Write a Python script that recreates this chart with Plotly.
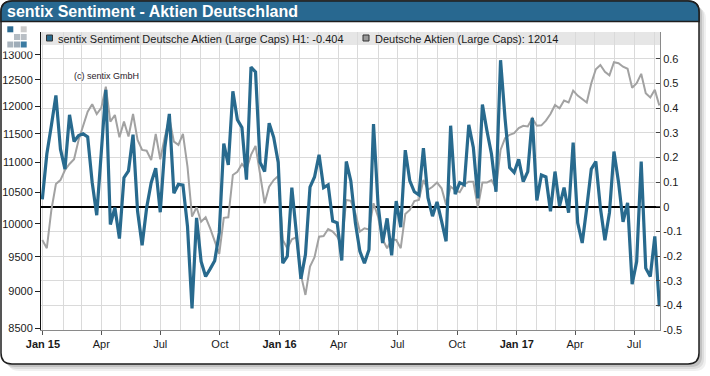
import plotly.graph_objects as go
import pandas as pd

# ---------------- data ----------------
start_date = "2014-12-31"

sentiment = [
    0.030, 0.214, 0.330, 0.452, 0.234, 0.153, 0.373, 0.265, 0.289, 0.296,
    0.284, 0.098, -0.034, 0.220, 0.475, -0.072, -0.004, -0.129, 0.118, 0.146,
    0.293, -0.018, -0.156, -0.004, 0.098, 0.157, -0.022, 0.241, 0.377, 0.055,
    0.091, 0.088, -0.079, -0.412, -0.045, -0.222, -0.283, -0.252, -0.219, -0.106,
    0.257, 0.170, 0.469, 0.353, 0.322, 0.110, 0.567, 0.547, 0.180, 0.143,
    0.339, 0.282, 0.180, -0.229, -0.201, 0.078, -0.113, -0.292, -0.194, 0.080,
    0.121, 0.211, 0.078, 0.089, -0.058, -0.065, -0.218, 0.184, 0.105, -0.065,
    -0.181, -0.229, -0.174, 0.336, 0.010, -0.147, -0.047, -0.197, 0.023, -0.083,
    0.230, 0.105, 0.061, 0.048, 0.238, 0.037, -0.038, 0.020, -0.058, -0.140,
    0.329, 0.051, 0.098, 0.089, 0.333, 0.241, 0.034, 0.415, 0.309, 0.214,
    0.061, 0.595, 0.357, 0.159, 0.139, 0.193, 0.102, 0.143, 0.361, 0.026,
    0.129, 0.121, -0.018, 0.143, 0.003, 0.078, -0.024, 0.261, -0.065, -0.147,
    -0.004, 0.153, 0.184, -0.004, -0.136, -0.024, 0.224, 0.100, -0.061, 0.016,
    -0.314, -0.222, 0.184, -0.249, -0.283, -0.120, -0.404,
]

index_level = [
    9750, 9626, 10215, 10635, 10701, 10869, 10971, 11052, 11389, 11657,
    11900, 12038, 11857, 11970, 12371, 11717, 11838, 11437, 11717, 11450,
    11856, 11389, 11213, 11200, 11040, 11497, 11052, 11437, 11779, 11359,
    11301, 11497, 10925, 10109, 10258, 10030, 10099, 9928, 9725, 9542,
    10091, 10099, 10785, 10840, 10971, 10880, 11127, 11283, 10800, 10322,
    10590, 10701, 10768, 9750, 9626, 9760, 9790, 9235, 8952, 9355,
    9493, 9800, 9810, 9917, 9877, 9800, 9680, 10375, 10360, 10162,
    9877, 9928, 9910, 10322, 10109, 9760, 9626, 9760, 9750, 9626,
    10150, 10215, 10358, 10375, 10701, 10540, 10590, 10660, 10565, 10300,
    10590, 10536, 10500, 10630, 10673, 10673, 10258, 10660, 10660, 10701,
    10565, 11213, 11419, 11480, 11510, 11600, 11642, 11630, 11779, 11642,
    11650, 11735, 11856, 12025, 11964, 12106, 12070, 12294, 12200, 12132,
    12070, 12436, 12710, 12795, 12660, 12590, 12850, 12830, 12760, 12720,
    12350, 12440, 12620, 12245, 12165, 12310, 12014,
]

left_ticks = [8500, 9000, 9500, 10000, 10500, 11000, 11500, 12000, 12500, 13000]
right_ticks = [-0.5, -0.4, -0.3, -0.2, -0.1, 0, 0.1, 0.2, 0.3, 0.4, 0.5, 0.6]
right_ticktext = ["-0.5", "-0.4", "-0.3", "-0.2", "-0.1", "0",
                  "0.1", "0.2", "0.3", "0.4", "0.5", "0.6"]
quarter_ticks = ["2015-01-01", "2015-04-01", "2015-07-01", "2015-10-01",
                 "2016-01-01", "2016-04-01", "2016-07-01", "2016-10-01",
                 "2017-01-01", "2017-04-01", "2017-07-01"]
quarter_text = ["<b>Jan 15</b>", "Apr", "Jul", "Oct",
                "<b>Jan 16</b>", "Apr", "Jul", "Oct",
                "<b>Jan 17</b>", "Apr", "Jul"]

title_text = "sentix Sentiment - Aktien Deutschland"
legend_blue = "sentix Sentiment Deutsche Aktien (Large Caps) H1: -0.404"
legend_gray = "Deutsche Aktien (Large Caps): 12014"
copyright_text = "(c) sentix GmbH"

dates = pd.date_range(start_date, periods=len(sentiment), freq="7D")

# ---------------- styling ----------------
BLUE = "#286a8e"
GRAY = "#a2a2a2"
GRID = "#dadada"
FONT = "Liberation Sans, Arial, sans-serif"

W_FIG, H_FIG = 710, 376
L, T, R, B = 41, 32, 50, 46
PW, PH = W_FIG - L - R, H_FIG - T - B


def px(x):
    return (x - L) / PW


def py(y):
    return (T + PH - y) / PH


def rrect_path(x0, y0, x1, y1, r, top_only=False):
    p = []
    if top_only:
        p.append(f"M {px(x0)},{py(y1)}")
        p.append(f"L {px(x0)},{py(y0 + r)}")
    else:
        p.append(f"M {px(x0)},{py(y0 + r)}")
    p.append(f"Q {px(x0)},{py(y0)} {px(x0 + r)},{py(y0)}")
    p.append(f"L {px(x1 - r)},{py(y0)}")
    p.append(f"Q {px(x1)},{py(y0)} {px(x1)},{py(y0 + r)}")
    if top_only:
        p.append(f"L {px(x1)},{py(y1)}")
    else:
        p.append(f"L {px(x1)},{py(y1 - r)}")
        p.append(f"Q {px(x1)},{py(y1)} {px(x1 - r)},{py(y1)}")
        p.append(f"L {px(x0 + r)},{py(y1)}")
        p.append(f"Q {px(x0)},{py(y1)} {px(x0)},{py(y1 - r)}")
    p.append("Z")
    return " ".join(p)


shapes = []
# soft shadow
for off, a in [(7, 0.06), (5, 0.08), (3, 0.12)]:
    shapes.append(dict(type="path", xref="paper", yref="paper", layer="below",
                       path=rrect_path(1 + off, 1 + off, 699 + off, 364 + off, 11),
                       fillcolor=f"rgba(0,0,0,{a})", line=dict(width=0)))
# white card with dark border
shapes.append(dict(type="path", xref="paper", yref="paper", layer="below",
                   path=rrect_path(1, 1, 699, 364, 11),
                   fillcolor="white", line=dict(color="#1e1e1e", width=1.5)))
# title bar
shapes.append(dict(type="path", xref="paper", yref="paper", layer="below",
                   path=rrect_path(1, 1, 699, 21.5, 11, top_only=True),
                   fillcolor="#286890", line=dict(color="#1e1e1e", width=1.5)))
# legend band
shapes.append(dict(type="rect", xref="paper", yref="paper", layer="below",
                   x0=px(41), x1=px(660), y0=py(32), y1=py(45),
                   fillcolor="#e6e6e6", line=dict(width=0)))
# logo background (covers the top of the first tick label, as in the original)
shapes.append(dict(type="rect", xref="paper", yref="paper", layer="above",
                   x0=px(3), x1=px(33), y0=py(23), y1=py(51.5),
                   fillcolor="white", line=dict(width=0)))
# logo squares
logo = [
    (7.3, 26.3, "#2c6b92"), (20.7, 26.3, "#cbcbcb"),
    (14.0, 34.0, "#b4bcc3"), (20.7, 34.0, "#b9bfc5"),
    (7.3, 41.5, "#a9b4bd"), (14.0, 41.5, "#9eacb8"), (20.7, 41.5, "#3b7ba2"),
]
for x0, y0, c in logo:
    shapes.append(dict(type="rect", xref="paper", yref="paper", layer="above",
                       x0=px(x0), x1=px(x0 + 6), y0=py(y0), y1=py(y0 + 6),
                       fillcolor=c, line=dict(width=0)))
# legend squares
shapes.append(dict(type="rect", xref="paper", yref="paper", layer="above",
                   x0=px(46.5), x1=px(52.5), y0=py(35), y1=py(41),
                   fillcolor=BLUE, line=dict(color="#333333", width=1)))
shapes.append(dict(type="rect", xref="paper", yref="paper", layer="above",
                   x0=px(363), x1=px(369), y0=py(35), y1=py(41),
                   fillcolor="#9a9a9a", line=dict(color="#333333", width=1)))

annotations = [
    dict(text=f"<b>{title_text}</b>", xref="paper", yref="paper",
         x=px(5), y=py(11.5), xanchor="left", yanchor="middle", showarrow=False,
         font=dict(family=FONT, size=16, color="white")),
    dict(text=legend_blue, xref="paper", yref="paper",
         x=px(56), y=py(38.5), xanchor="left", yanchor="middle", showarrow=False,
         font=dict(family=FONT, size=11, color="#1a1a1a")),
    dict(text=legend_gray, xref="paper", yref="paper",
         x=px(372.5), y=py(38.5), xanchor="left", yanchor="middle", showarrow=False,
         font=dict(family=FONT, size=11, color="#1a1a1a")),
    dict(text=copyright_text, xref="paper", yref="paper",
         x=px(72), y=py(76), xanchor="left", yanchor="middle", showarrow=False,
         font=dict(family=FONT, size=9, color="#2a1a2a")),
]

fig = go.Figure()
fig.add_trace(go.Scatter(x=dates, y=index_level, mode="lines", yaxis="y",
                         name=legend_gray, line=dict(color=GRAY, width=2),
                         hoverinfo="skip"))
fig.add_trace(go.Scatter(x=dates, y=sentiment, mode="lines", yaxis="y2",
                         name=legend_blue, line=dict(color=BLUE, width=3.2),
                         hoverinfo="skip"))

fig.update_layout(
    width=W_FIG, height=H_FIG,
    margin=dict(l=L, r=R, t=T, b=B, pad=0, autoexpand=False),
    paper_bgcolor="white", plot_bgcolor="rgba(0,0,0,0)",
    showlegend=False,
    font=dict(family=FONT, size=11, color="#1a1a1a"),
    shapes=shapes, annotations=annotations,
    xaxis=dict(
        type="date", range=["2014-12-29", "2017-08-10"], automargin=False,
        tickmode="array", tickvals=quarter_ticks, ticktext=quarter_text,
        ticks="outside", ticklen=4, tickcolor="#555555",
        showgrid=True, gridcolor=GRID, gridwidth=1,
        minor=dict(tick0="2015-01-01", dtick="M1", showgrid=True,
                   gridcolor=GRID, gridwidth=1, ticks=""),
        showline=True, linecolor="#8a8a8a", linewidth=1,
        zeroline=False, tickfont=dict(size=11, color="#1a1a1a"),
    ),
    yaxis=dict(
        type="log", range=[3.92827, 4.12928], automargin=False,
        tickmode="array", tickvals=left_ticks,
        ticktext=[str(v) for v in left_ticks],
        ticks="outside", ticklen=5, tickcolor="#222222",
        showgrid=False, zeroline=False,
        showline=True, linecolor="#111111", linewidth=1,
        tickfont=dict(size=11, color="#1a1a1a"),
    ),
    yaxis2=dict(
        overlaying="y", side="right", range=[-0.5, 0.7094], automargin=False,
        tickmode="array", tickvals=right_ticks, ticktext=right_ticktext,
        ticks="inside", ticklen=4, tickcolor="#444444",
        showgrid=True, gridcolor=GRID, gridwidth=1,
        zeroline=True, zerolinecolor="#000000", zerolinewidth=2,
        showline=True, linecolor="#8a8a8a", linewidth=1,
        tickfont=dict(size=11, color="#1a1a1a"),
    ),
)

fig.write_html("out.html", config={"displayModeBar": False},
               post_script="document.body.style.margin='0';document.body.style.overflow='hidden';")
